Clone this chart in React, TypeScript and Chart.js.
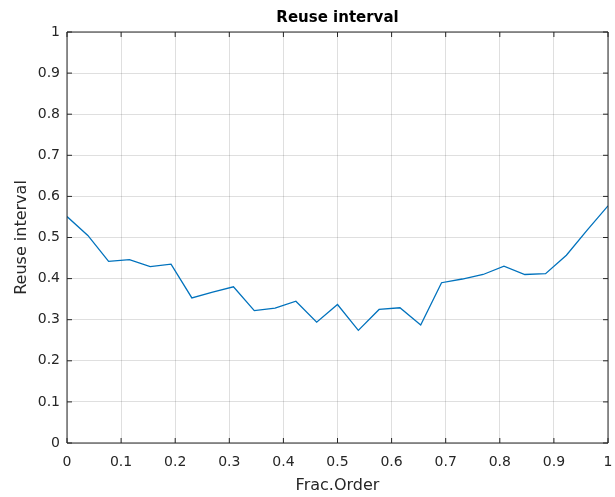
import React, { useEffect, useRef } from "react";
import { Chart, registerables } from "chart.js";

Chart.register(...registerables);

const fracOrder = [
  0, 0.0385, 0.0769, 0.1154, 0.1538, 0.1923, 0.2308, 0.2692, 0.3077, 0.3462,
  0.3846, 0.4231, 0.4615, 0.5, 0.5385, 0.5769, 0.6154, 0.6538, 0.6923, 0.7308,
  0.7692, 0.8077, 0.8462, 0.8846, 0.9231, 0.9615, 1,
];
const reuseInterval = [
  0.551, 0.505, 0.442, 0.446, 0.429, 0.435, 0.353, 0.367, 0.38, 0.322,
  0.328, 0.345, 0.294, 0.337, 0.274, 0.325, 0.329, 0.287, 0.39, 0.399,
  0.41, 0.43, 0.41, 0.412, 0.457, 0.518, 0.577,
];
const titleText = "Reuse interval";
const xLabel = "Frac.Order";
const yLabel = "Reuse interval";

const FONT = "'DejaVu Sans', 'Liberation Sans', Arial, sans-serif";
const AXIS_COLOR = "#262626";

const fmt = (v: number) => String(parseFloat(Number(v).toFixed(1)));

const boxPlugin = {
  id: "matlabBox",
  afterDraw(chart: any) {
    const { ctx, chartArea } = chart;
    const { left, right, top, bottom } = chartArea;
    const xs = chart.scales.x;
    const ys = chart.scales.y;
    const tl = 5;
    ctx.save();
    ctx.strokeStyle = AXIS_COLOR;
    ctx.lineWidth = 1;
    ctx.beginPath();
    ctx.rect(left, top, right - left, bottom - top);
    ctx.stroke();
    ctx.beginPath();
    xs.ticks.forEach((t: any) => {
      const px = xs.getPixelForValue(t.value);
      ctx.moveTo(px, bottom);
      ctx.lineTo(px, bottom - tl);
      ctx.moveTo(px, top);
      ctx.lineTo(px, top + tl);
    });
    ys.ticks.forEach((t: any) => {
      const py = ys.getPixelForValue(t.value);
      ctx.moveTo(left, py);
      ctx.lineTo(left + tl, py);
      ctx.moveTo(right, py);
      ctx.lineTo(right - tl, py);
    });
    ctx.stroke();
    ctx.restore();
  },
};

export default function App() {
  const ref = useRef<HTMLCanvasElement | null>(null);
  useEffect(() => {
    if (!ref.current) return;
    const chart = new Chart(ref.current, {
      type: "line",
      data: {
        datasets: [
          {
            data: fracOrder.map((x, i) => ({ x, y: reuseInterval[i] })),
            borderColor: "#0072BD",
            borderWidth: 1.3,
            pointRadius: 0,
            fill: false,
            tension: 0,
          },
        ],
      },
      options: {
        animation: false,
        responsive: true,
        maintainAspectRatio: false,
        layout: { padding: { left: 0, right: 7, top: 0, bottom: 0 } },
        plugins: {
          legend: { display: false },
          tooltip: { enabled: false },
          title: {
            display: true,
            text: titleText,
            fullSize: false,
            color: "#000",
            font: { family: FONT, size: 15, weight: "bold" },
            padding: { top: 9, bottom: 5 },
          },
        },
        scales: {
          x: {
            type: "linear",
            min: 0,
            max: 1,
            afterFit: (s: any) => {
              s.height = 54;
              s.paddingLeft = 0;
              s.paddingRight = 0;
            },
            ticks: {
              stepSize: 0.1,
              padding: 11,
              color: AXIS_COLOR,
              font: { family: FONT, size: 14 },
              callback: (v: any) => fmt(v),
              maxRotation: 0,
            },
            grid: {
              color: "rgba(38,38,38,0.15)",
              lineWidth: 1,
              drawTicks: false,
            },
            border: { display: false },
            title: {
              display: true,
              text: xLabel,
              color: AXIS_COLOR,
              font: { family: FONT, size: 16 },
              padding: { top: 2, bottom: 2 },
            },
          },
          y: {
            type: "linear",
            min: 0,
            max: 1,
            afterFit: (s: any) => {
              s.width = 67;
              s.paddingTop = 0;
              s.paddingBottom = 0;
            },
            ticks: {
              stepSize: 0.1,
              padding: 7,
              color: AXIS_COLOR,
              font: { family: FONT, size: 14 },
              callback: (v: any) => fmt(v),
            },
            grid: {
              color: "rgba(38,38,38,0.15)",
              lineWidth: 1,
              drawTicks: false,
            },
            border: { display: false },
            title: {
              display: true,
              text: yLabel,
              color: AXIS_COLOR,
              font: { family: FONT, size: 16 },
              padding: { top: 12, bottom: 12 },
            },
          },
        },
      },
      plugins: [boxPlugin],
    } as any);
    return () => chart.destroy();
  }, []);
  return (
    <div
      style={{
        position: "fixed",
        left: 0,
        top: 0,
        width: 615,
        height: 497,
        background: "#fff",
      }}
    >
      <canvas ref={ref} />
    </div>
  );
}
